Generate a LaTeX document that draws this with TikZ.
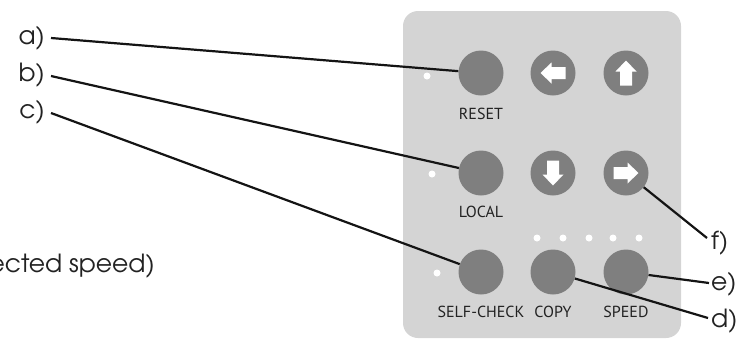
\documentclass[tikz,border=0pt]{standalone}
\usepackage{fontspec}
\newfontfamily\labelfont{TeX Gyre Adventor}
\newfontfamily\keyfont{PT Sans}
\definecolor{panelgray}{HTML}{D4D4D4}
\definecolor{keygray}{HTML}{7F7F7F}
\definecolor{keytext}{HTML}{222222}
\definecolor{leader}{HTML}{141414}
\tikzset{
  keybtn/.style={circle, fill=keygray, minimum size=45pt, inner sep=0pt},
  keylabel/.style={font=\keyfont\fontsize{16}{16}\selectfont, text=keytext, inner sep=0pt},
  callout/.style={font=\labelfont\fontsize{25}{25}\selectfont, text=keytext, inner sep=0pt},
  led/.style={circle, fill=white, minimum size=7pt, inner sep=0pt},
  leaderline/.style={draw=leader, line width=2.2pt},
  arrowglyph/.style={fill=white}
}
\newcommand{\blockarrow}[2]{%
  \fill[arrowglyph, shift={#1}, rotate=#2]
    (-12.5,0) -- (-1.5,-10.5) -- (-1.5,-6) -- (12.5,-6) -- (12.5,6) -- (-1.5,6) -- (-1.5,10.5) -- cycle;}
\begin{document}
\begin{tikzpicture}[x=1pt,y=-1pt]
\useasboundingbox (0,0) rectangle (748,341);
% panel
\fill[panelgray, rounded corners=15pt] (403,11) rectangle (681,338);
% keys
\node[keybtn] (reset) at (481,73) {};
\node[keybtn] (left)  at (553,73) {};
\node[keybtn] (up)    at (626,73) {};
\node[keybtn] (local) at (481,173) {};
\node[keybtn] (down)  at (553,173) {};
\node[keybtn] (right) at (626,173) {};
\node[keybtn] (self)  at (481,272) {};
\node[keybtn] (copy)  at (553,272) {};
\node[keybtn] (speed) at (626,272) {};
% arrow glyphs (y axis points down, so -90 turns the left arrow upward)
\blockarrow{(left.center)}{0}
\blockarrow{(up.center)}{-90}
\blockarrow{(down.center)}{90}
\blockarrow{(right.center)}{180}
% key captions
\node[keylabel] (resetlbl) at (481,114) {RESET};
\node[keylabel] (locallbl) at (481,212) {LOCAL};
\node[keylabel] (selflbl)  at (481,312) {SELF-CHECK};
\node[keylabel] (copylbl)  at (553,312) {COPY};
\node[keylabel] (speedlbl) at (626,312) {SPEED};
% indicator LEDs
\node[led] (ledreset) at (427,76) {};
\node[led] (ledlocal) at (432,174) {};
\node[led] (ledself)  at (437,273) {};
\node[led] (spd1) at (537,238) {};
\node[led] (spd2) at (563,238) {};
\node[led] (spd3) at (589,238) {};
\node[led] (spd4) at (613,238) {};
\node[led] (spd5) at (639,238) {};
% callout letters
\node[callout, anchor=east] (la) at (45,38) {a)};
\node[callout, anchor=east] (lb) at (45,75) {b)};
\node[callout, anchor=east] (lc) at (45,112) {c)};
\node[callout, anchor=east] (lspeed) at (155,266) {ected speed)};
\node[callout, anchor=west] (lf) at (711,243) {f)};
\node[callout, anchor=west] (le) at (711,284) {e)};
\node[callout, anchor=west] (ld) at (711,321) {d)};
% leader line ends next to the letters
\coordinate (pa) at (51,38);
\coordinate (pb) at (51,76);
\coordinate (pc) at (51,113);
\coordinate (pf) at (707,238);
\coordinate (pe) at (709,283);
\coordinate (pd) at (708,318);
% leader lines
\draw[leaderline] (pa) -- (reset);
\draw[leaderline] (pb) -- (local);
\draw[leaderline] (pc) -- (self);
\draw[leaderline] (pf) -- (right);
\draw[leaderline] (pe) -- (speed);
\draw[leaderline] (pd) -- (copy);
\end{tikzpicture}
\end{document}
